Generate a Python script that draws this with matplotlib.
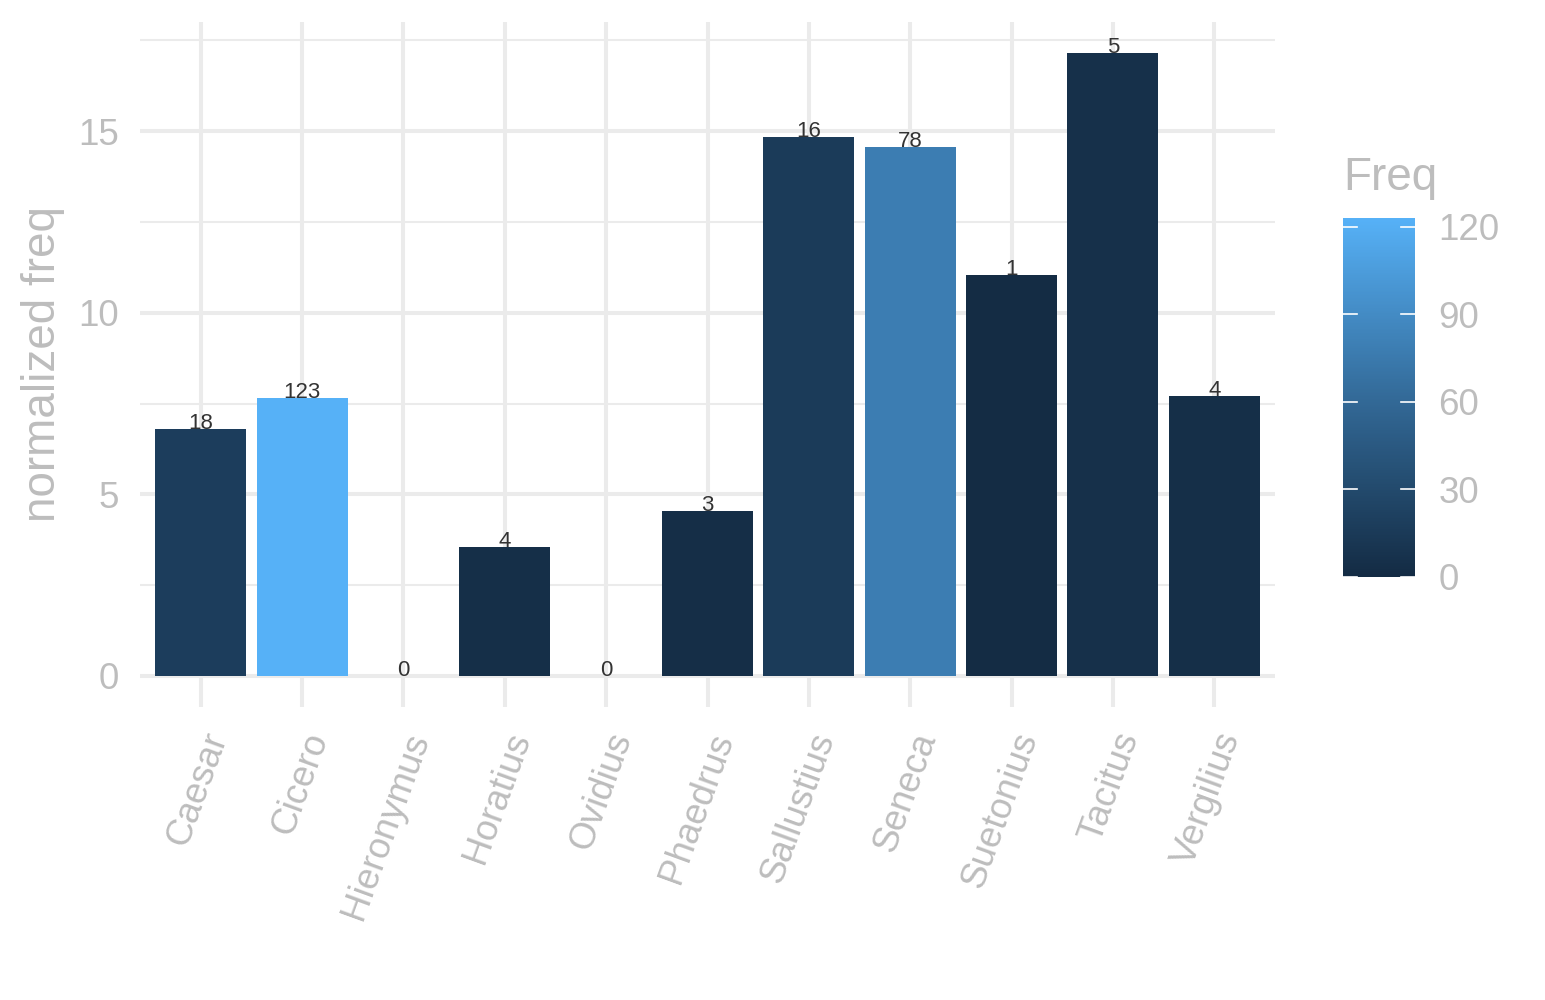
import numpy as np
import matplotlib
matplotlib.use('Agg')
import matplotlib.pyplot as plt
from matplotlib.colors import LinearSegmentedColormap, Normalize
from matplotlib.colorbar import ColorbarBase

plt.rcParams['font.family'] = ['Liberation Sans', 'DejaVu Sans']

# data
authors = ['Caesar', 'Cicero', 'Hieronymus', 'Horatius', 'Ovidius', 'Phaedrus',
           'Sallustius', 'Seneca', 'Suetonius', 'Tacitus', 'Vergilius']
norm_freq = [6.81, 7.66, 0.0, 3.56, 0.0, 4.55, 14.83, 14.56, 11.03, 17.15, 7.72]
freq = [18, 123, 0, 4, 0, 3, 16, 78, 1, 5, 4]

grey_txt = '#BDBDBD'
grid_col = '#EBEBEB'

# ggplot default continuous gradient
cmap = LinearSegmentedColormap.from_list('gg', ['#132B43', '#336A98', '#56B1F7'])
norm = Normalize(vmin=0, vmax=max(freq))

fig = plt.figure(figsize=(15.45, 10), dpi=100)
ax = fig.add_axes([140 / 1545, 293 / 1000, 1135 / 1545, 685 / 1000])

x = np.arange(len(authors))
ax.bar(x, norm_freq, width=0.9, color=cmap(norm(freq)), zorder=3)

for xi, v, f in zip(x, norm_freq, freq):
    ax.text(xi, v, str(f), ha='center', va='baseline', fontsize=16,
            color='#333333', zorder=4)

ymax = max(norm_freq)
pad = ymax * 0.05
ax.set_ylim(-pad, ymax + pad)
ax.set_xlim(-0.6, len(authors) - 0.4)

ax.set_yticks([0, 5, 10, 15])
ax.set_yticks([2.5, 7.5, 12.5, 17.5], minor=True)
ax.set_xticks(x)
ax.set_xticklabels(authors, rotation=70, ha='right', va='top',
                   rotation_mode='anchor')
ax.grid(True, which='major', color=grid_col, lw=2.9, zorder=0)
ax.grid(True, which='minor', axis='y', color=grid_col, lw=1.5, zorder=0)
ax.tick_params(which='both', length=0, colors=grey_txt, labelsize=26.5)
ax.tick_params(axis='x', pad=15)
ax.tick_params(axis='y', pad=15)
for s in ax.spines.values():
    s.set_visible(False)
ax.set_ylabel('normalized freq', fontsize=33, color=grey_txt, labelpad=10)

# colour bar legend
cax = fig.add_axes([1343 / 1545, 423 / 1000, 72 / 1545, 359 / 1000])
cb = ColorbarBase(cax, cmap=cmap, norm=norm, orientation='vertical')
cb.outline.set_visible(False)
cb.set_ticks([0, 30, 60, 90, 120])
cax.tick_params(length=0, colors=grey_txt, labelsize=26.5, pad=17)
for t in [0, 30, 60, 90, 120]:
    cax.plot([0, 0.2], [t, t], color='white', lw=1.2, transform=cax.get_yaxis_transform())
    cax.plot([0.8, 1.0], [t, t], color='white', lw=1.2, transform=cax.get_yaxis_transform())
fig.text(1343 / 1545, 1 - 178 / 1000, 'Freq', fontsize=33, color=grey_txt,
         ha='left', va='center')

fig.savefig('out.png', dpi=100)
